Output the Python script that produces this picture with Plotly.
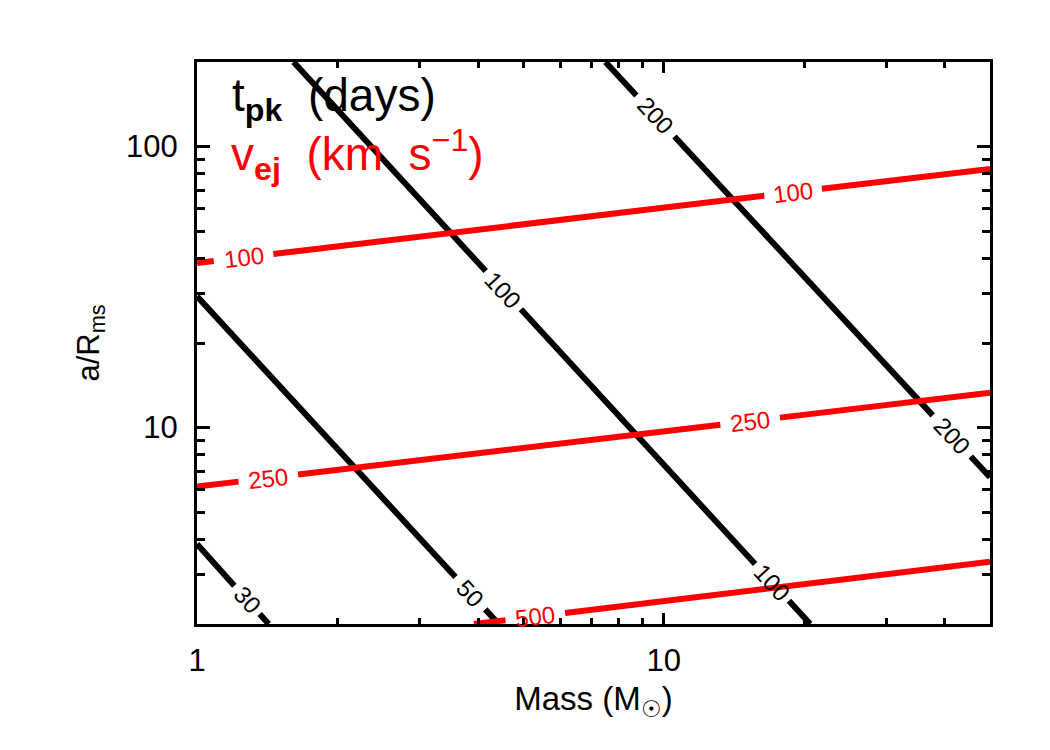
import math
import plotly.graph_objects as go

# ---- data (straight lines in log-log space) ----
t_levels = [30, 50, 100, 200]
t_mass_start = [1.0, 1.0, 1.61, 7.5]
t_a_start = [3.85, 29.3, 200.0, 200.0]
t_mass_end = [1.424, 4.43, 20.6, 50.0]
t_a_end = [2.0, 2.0, 2.0, 6.66]

v_levels = [100, 250, 500]
v_mass_start = [1.0, 1.0, 3.92]
v_a_start = [38.5, 6.17, 2.0]
v_mass_end = [50.0, 50.0, 50.0]
v_a_end = [83.3, 13.3, 3.33]

x_ticks = [1, 10]
y_ticks = [10, 100]
x_minor = [2, 3, 4, 5, 6, 7, 8, 9, 20, 30, 40]
y_minor = [3, 4, 5, 6, 7, 8, 9, 20, 30, 40, 50, 60, 70, 80, 90]

# ---- layout / style parameters ----
W, H = 1050, 750
ML, MR, MT, MB = 197, 60, 62, 126
XR = [0.0, math.log10(50)]
YR = [math.log10(2), math.log10(200)]
PW, PH = W - ML - MR, H - MT - MB
SX = PW / (XR[1] - XR[0])
SY = PH / (YR[1] - YR[0])

# label placement: (fraction along line, half gap in px)
t_label_pos = [[(0.698, 19)], [(0.906, 22)], [(0.406, 26), (0.926, 25)], [(0.130, 28), (0.9005, 28)]]
v_label_pos = [[(0.0587, 30), (0.7517, 29)], [(0.0899, 30), (0.6975, 30)], [(0.119, 30)]]

FONT = "Liberation Sans"
fig = go.Figure()
annotations = []


def add_contour(m0, a0, m1, a1, level, labels, color):
    lx0, ly0, lx1, ly1 = math.log10(m0), math.log10(a0), math.log10(m1), math.log10(a1)
    dlx, dly = lx1 - lx0, ly1 - ly0
    lpx = math.hypot(dlx * SX, dly * SY)
    ang = math.degrees(math.atan2(-dly * SY, dlx * SX))
    cuts = []
    for f, g in labels:
        cuts.append((f - g / lpx, f + g / lpx))
        annotations.append(dict(
            x=lx0 + f * dlx, y=ly0 + f * dly, xref="x", yref="y",
            text=str(level), showarrow=False, textangle=ang,
            xanchor="center", yanchor="middle",
            font=dict(family=FONT, size=24, color=color)))
    cuts.sort()
    segs = []
    s = 0.0
    for c0, c1 in cuts:
        segs.append((s, max(c0, 0.0)))
        s = min(c1, 1.0)
    segs.append((s, 1.0))
    xs, ys = [], []
    for s0, s1 in segs:
        if s1 <= s0:
            continue
        for f in (s0, s1):
            xs.append(10 ** (lx0 + f * dlx))
            ys.append(10 ** (ly0 + f * dly))
        xs.append(None)
        ys.append(None)
    fig.add_trace(go.Scatter(x=xs, y=ys, mode="lines", showlegend=False,
                             line=dict(color=color, width=6), hoverinfo="skip"))


for i, lev in enumerate(t_levels):
    add_contour(t_mass_start[i], t_a_start[i], t_mass_end[i], t_a_end[i], lev, t_label_pos[i], "black")
for i, lev in enumerate(v_levels):
    add_contour(v_mass_start[i], v_a_start[i], v_mass_end[i], v_a_end[i], lev, v_label_pos[i], "#ff0000")

annotations.append(dict(x=0.042, y=0.935, xref="paper", yref="paper", xanchor="left", yanchor="middle",
                        text="t<sub><b>pk</b></sub>  (days)", showarrow=False,
                        font=dict(family=FONT, size=46, color="black")))
annotations.append(dict(x=0.040, y=0.835, xref="paper", yref="paper", xanchor="left", yanchor="middle",
                        text="v<sub><b>ej</b></sub>  (km  s<sup>−1</sup>)", showarrow=False,
                        font=dict(family=FONT, size=46, color="#ff0000")))

axis_common = dict(type="log", showgrid=False, zeroline=False, showline=True, linecolor="black",
                   linewidth=3, mirror="allticks", ticks="inside", tickcolor="black", tickwidth=3,
                   tickfont=dict(family=FONT, size=31, color="black"))

fig.update_layout(
    width=W, height=H, margin=dict(l=ML, r=MR, t=MT, b=MB),
    paper_bgcolor="white", plot_bgcolor="white",
    annotations=annotations,
    xaxis=dict(range=XR, tickvals=x_ticks, ticktext=[str(v) for v in x_ticks], ticklen=11,
               minor=dict(tickvals=x_minor, ticks="inside", ticklen=6, tickwidth=3, tickcolor="black"),
               title=dict(text="Mass (M<sub>☉</sub>)", font=dict(family=FONT, size=33, color="black"),
                          standoff=10),
               ticklabelstandoff=7,
               **axis_common),
    yaxis=dict(range=YR, tickvals=y_ticks, ticktext=[str(v) for v in y_ticks], ticklen=13,
               minor=dict(tickvals=y_minor, ticks="inside", ticklen=8, tickwidth=3, tickcolor="black"),
               title=dict(text="a/R<sub>ms</sub>", font=dict(family=FONT, size=31, color="black"),
                          standoff=18),
               ticklabelstandoff=10,
               **axis_common),
)

fig.write_html("out.html")
